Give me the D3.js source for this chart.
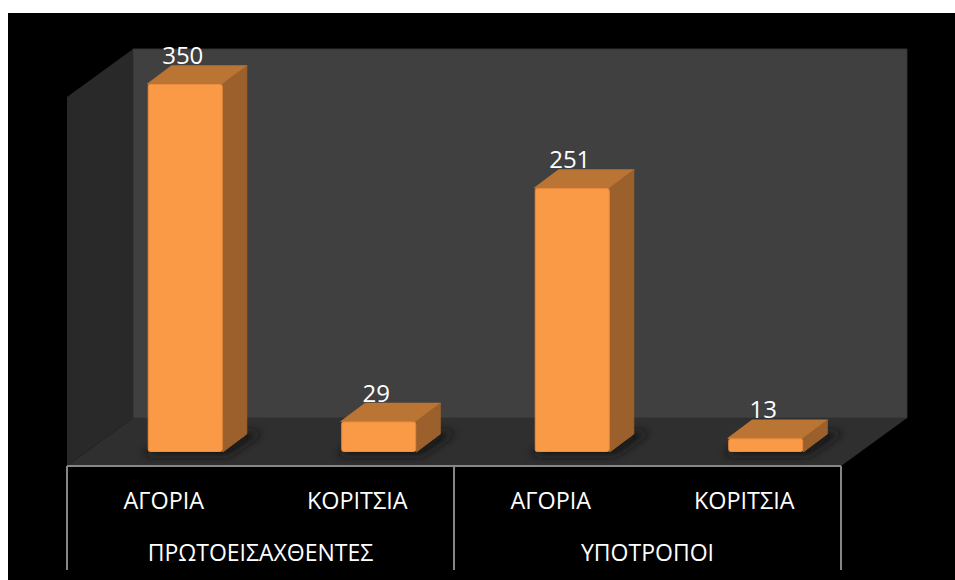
<!DOCTYPE html>
<html>
<head>
<meta charset="utf-8">
<script src="https://cdn.jsdelivr.net/npm/d3@7"></script>
<style>
  html, body { margin: 0; padding: 0; background: #fff; overflow: hidden; }
  svg { display: block; }
  text { font-family: "Open Sans", "Noto Sans", sans-serif; fill: #fff; }
</style>
</head>
<body>
<div id="chart"></div>
<script>
// values
var categories = ["ΑΓΟΡΙΑ", "ΚΟΡΙΤΣΙΑ", "ΑΓΟΡΙΑ", "ΚΟΡΙΤΣΙΑ"];
var groups = ["ΠΡΩΤΟΕΙΣΑΧΘΕΝΤΕΣ", "ΥΠΟΤΡΟΠΟΙ"];
var values = [350, 29, 251, 13];

var width = 955, height = 580;
var plot = {left: 67, right: 841, floorFront: 466, base: 452, top: 84, axisBottom: 570};
var wall = {dx: 66, dy: 48, top: 49};   // depth of the box
var bar = {dx: 24, dy: 18, shift: 21.5};  // depth of each bar

var svg = d3.select("#chart").append("svg")
    .attr("width", width)
    .attr("height", height);

var defs = svg.append("defs");
defs.append("filter").attr("id", "blur")
    .attr("filterUnits", "userSpaceOnUse")
    .attr("x", 0).attr("y", 380).attr("width", width).attr("height", 100)
  .append("feGaussianBlur").attr("stdDeviation", 5);

svg.append("rect")
    .attr("x", 8).attr("y", 13)
    .attr("width", width - 8).attr("height", height - 13)
    .attr("fill", "#000");

var x = d3.scaleBand()
    .domain(d3.range(categories.length))
    .range([plot.left, plot.right]);
var barWidth = 75;

var y = d3.scaleLinear()
    .domain([0, 350])
    .range([plot.base, plot.top]);

var poly = function(pts) { return pts.map(function(p) { return p.join(","); }).join(" "); };

// box: back wall, side wall, floor
var back = {l: plot.left + wall.dx, r: plot.right + wall.dx, b: plot.floorFront - wall.dy};
svg.append("polygon")
    .attr("points", poly([[back.l, wall.top], [back.r, wall.top], [back.r, back.b], [back.l, back.b]]))
    .attr("fill", "#404040")
    .attr("stroke", "#333");
svg.append("polygon")
    .attr("points", poly([[plot.left, wall.top + wall.dy], [back.l, wall.top], [back.l, back.b], [plot.left, plot.floorFront]]))
    .attr("fill", "#292929");
svg.append("polygon")
    .attr("points", poly([[back.l, back.b], [back.r, back.b], [plot.right, plot.floorFront], [plot.left, plot.floorFront]]))
    .attr("fill", "#2f2f2f");

// bars
var bars = svg.selectAll(".bar")
    .data(values)
  .enter().append("g")
    .attr("class", "bar");

// soft shadow lying on the floor
bars.append("polygon")
    .attr("points", function(d, i) {
      var l = barX(i), r = l + barWidth, b = plot.base;
      return poly([[l - 6, b + 3], [r + 6, b + 3], [r + bar.dx + 16, b - bar.dy - 2], [l + bar.dx + 10, b - bar.dy - 2]]);
    })
    .attr("fill", "#141414")
    .attr("filter", "url(#blur)");

bars.append("polygon")
    .attr("points", function(d, i) {
      var l = barX(i), r = l + barWidth, t = y(d);
      return poly([[l, t], [l + bar.dx, t - bar.dy], [r + bar.dx, t - bar.dy], [r, t]]);
    })
    .attr("fill", "#ba7434")
    .attr("stroke", "#ba7434")
    .attr("stroke-width", 1.5)
    .attr("stroke-linejoin", "round");

bars.append("polygon")
    .attr("points", function(d, i) {
      var r = barX(i) + barWidth, t = y(d);
      return poly([[r, t], [r + bar.dx, t - bar.dy], [r + bar.dx, plot.base - bar.dy], [r, plot.base]]);
    })
    .attr("fill", "#9c602c")
    .attr("stroke", "#9c602c")
    .attr("stroke-width", 1)
    .attr("stroke-linejoin", "round");

bars.append("rect")
    .attr("x", function(d, i) { return barX(i) + 0.5; })
    .attr("y", function(d) { return y(d) + 0.5; })
    .attr("width", barWidth - 1)
    .attr("height", function(d) { return plot.base - y(d) - 1; })
    .attr("rx", 2)
    .attr("fill", "#fa9946")
    .attr("stroke", "#ec8d3f")
    .attr("stroke-width", 1);

function barX(i) {
  return x(i) + x.bandwidth() / 2 + bar.shift - barWidth / 2;
}

// value labels
svg.selectAll(".value")
    .data(values)
  .enter().append("text")
    .attr("class", "value")
    .attr("x", function(d, i) { return barX(i) + barWidth / 2 - 2.5; })
    .attr("y", function(d) { return y(d) - 20; })
    .attr("text-anchor", "middle")
    .style("font-size", "24px")
    .text(function(d) { return d; });

// category axis
var xAxis = d3.axisBottom(x)
    .tickSize(0)
    .tickPadding(0)
    .tickFormat(function(i) { return categories[i]; });

var axisG = svg.append("g")
    .attr("transform", "translate(0," + plot.floorFront + ")")
    .call(xAxis);
axisG.select(".domain").remove();
axisG.selectAll("text")
    .attr("y", 43)
    .attr("dy", 0)
    .style("font-size", "23.4px")
    .style("font-family", null);
axisG.attr("font-family", null).attr("font-size", null);

// group labels and separators
var gx = d3.scaleBand()
    .domain(d3.range(groups.length))
    .range([plot.left, plot.right]);

svg.selectAll(".group")
    .data(groups)
  .enter().append("text")
    .attr("class", "group")
    .attr("x", function(d, i) { return gx(i) + gx.bandwidth() / 2; })
    .attr("y", 561)
    .attr("text-anchor", "middle")
    .style("font-size", "23px")
    .text(function(d) { return d; });

svg.append("line")
    .attr("x1", plot.left).attr("x2", plot.right)
    .attr("y1", plot.floorFront).attr("y2", plot.floorFront)
    .attr("stroke", "#868686").attr("stroke-width", 2);

svg.selectAll(".sep")
    .data(d3.range(groups.length + 1))
  .enter().append("line")
    .attr("class", "sep")
    .attr("x1", function(d) { return plot.left + d * gx.bandwidth(); })
    .attr("x2", function(d) { return plot.left + d * gx.bandwidth(); })
    .attr("y1", plot.floorFront)
    .attr("y2", plot.axisBottom)
    .attr("stroke", "#868686").attr("stroke-width", 2);
</script>
</body>
</html>
